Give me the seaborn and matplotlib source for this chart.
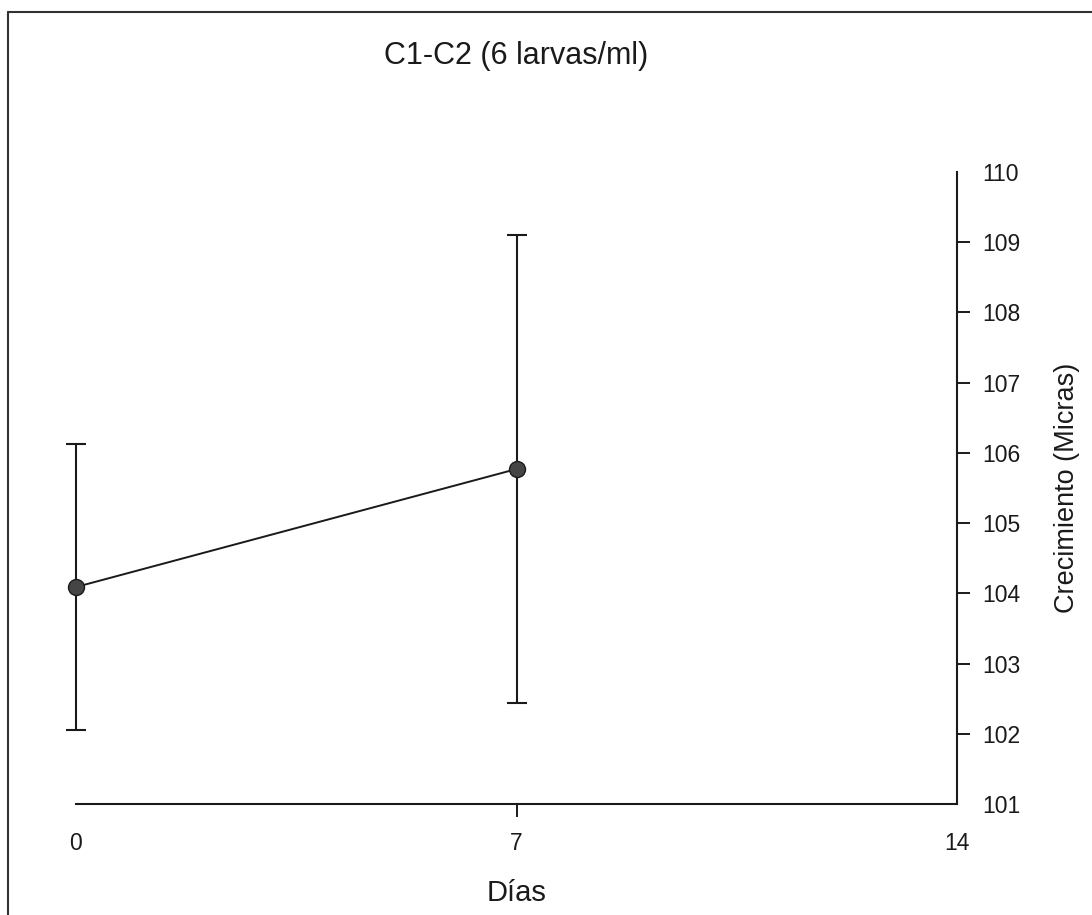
import pandas as pd
import seaborn as sns
import matplotlib.pyplot as plt
from matplotlib.lines import Line2D

# Datos
dias = [0, 7]
crecimiento = [104.09, 105.77]
error = [2.03, 3.33]
xticks = [0, 7, 14]
yticks = list(range(101, 111))

sns.set_theme(style="white")
plt.rcParams['font.family'] = ['Liberation Sans', 'DejaVu Sans']

fig = plt.figure(figsize=(10.92, 9.15), dpi=100)
ax = fig.add_axes([76 / 1092, 1 - 804 / 915, 881 / 1092, 632 / 915])

df = pd.DataFrame({'Días': dias, 'Crecimiento': crecimiento})

# Barras de error
ax.errorbar(df['Días'], df['Crecimiento'], yerr=error, fmt='none',
            ecolor='#1a1a1a', elinewidth=1.5, capsize=7, capthick=1.5, zorder=2)

# Línea con marcadores
sns.lineplot(data=df, x='Días', y='Crecimiento', ax=ax, color='#1a1a1a',
             linewidth=1.4, marker='o', markersize=11.5,
             markerfacecolor='#454545', markeredgecolor='#1a1a1a',
             markeredgewidth=1.0, zorder=3)

for art in ax.lines + ax.collections:
    art.set_clip_on(False)

ax.set_xlim(0, 14)
ax.set_ylim(101, 110)
ax.set_xticks(xticks)
ax.set_yticks(yticks)

ax.yaxis.tick_right()
ax.yaxis.set_label_position('right')
ax.spines['left'].set_visible(False)
ax.spines['top'].set_visible(False)
for s in ['bottom', 'right']:
    ax.spines[s].set_color('#1a1a1a')
    ax.spines[s].set_linewidth(1.5)

ax.tick_params(axis='y', direction='out', length=9, width=1.4, pad=9,
               labelsize=16.5, colors='#1a1a1a', right=True, left=False)
ax.tick_params(axis='x', direction='out', length=9, width=1.4, pad=11,
               labelsize=16.5, colors='#1a1a1a', bottom=True)

# ocultar marcas en las esquinas
for i in [0, 2]:
    ax.xaxis.get_major_ticks()[i].tick1line.set_visible(False)
for i in [0, 9]:
    ax.yaxis.get_major_ticks()[i].tick2line.set_visible(False)

ax.set_xlabel('Días', fontsize=21, color='#1a1a1a')
ax.xaxis.label.set_va('center')
ax.xaxis.set_label_coords(0.5, -(893 - 804) / 632)

ax.set_ylabel('Crecimiento (Micras)', fontsize=19.5, color='#1a1a1a',
              rotation=90)
ax.yaxis.label.set_va('center')
ax.yaxis.label.set_ha('center')
ax.yaxis.set_label_coords((1067 - 76) / 881, 0.5)

ax.set_title('C1-C2 (6 larvas/ml)', fontsize=22, color='#1a1a1a',
             y=(804 - 64) / 632, va='center')

# marco exterior (solo borde superior e izquierdo visibles)
fig.add_artist(Line2D([8 / 1092, 1.0], [1 - 12 / 915, 1 - 12 / 915],
                      transform=fig.transFigure, color='#333333', lw=1.5))
fig.add_artist(Line2D([8 / 1092, 8 / 1092], [0.0, 1 - 12 / 915],
                      transform=fig.transFigure, color='#333333', lw=1.5))

fig.savefig('out.png', dpi=100)
